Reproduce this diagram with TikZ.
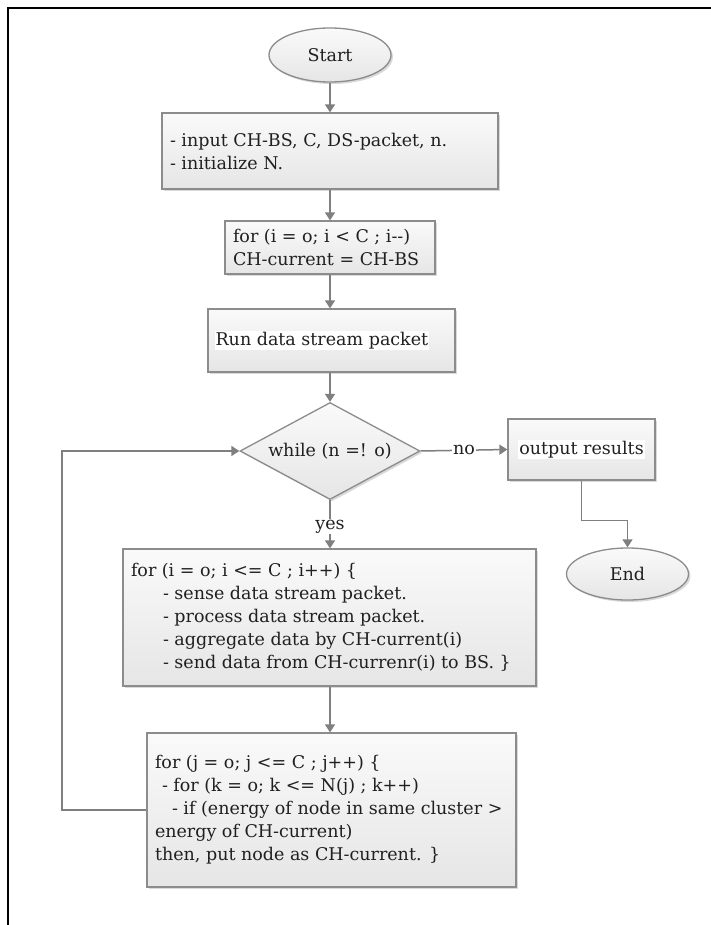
\documentclass[tikz,border=0pt]{standalone}
\usepackage{fontspec}
\setmainfont{DejaVu Serif}
\usetikzlibrary{shapes.geometric,arrows.meta,shadows}

\definecolor{edgegray}{HTML}{8C8C8C}
\definecolor{wiregray}{HTML}{7F7F7F}
\definecolor{ink}{HTML}{202020}

\newcommand\flowfont{\fontsize{17.5}{23}\selectfont}

\tikzset{
  flow/.style={draw=edgegray, line width=1.3pt, shading=axis,
    top color=white!98!black, bottom color=white!90!black,
    drop shadow={shadow xshift=2pt, shadow yshift=-2pt, fill=black, opacity=0.15},
    text=ink, font=\flowfont},
  procbox/.style={flow, rectangle, align=flush left, inner xsep=8pt, inner ysep=0pt},
  termnode/.style={flow, ellipse, inner sep=0pt, minimum width=122pt, minimum height=54pt},
  decnode/.style={flow, diamond, aspect=1.86, inner sep=0pt, minimum width=180pt, minimum height=97pt},
  wire/.style={draw=wiregray, line width=1.5pt, -{Triangle[width=10pt,length=8pt]}},
  tag/.style={fill=white, inner sep=1pt, text=ink, font=\flowfont},
}

\begin{document}
\begin{tikzpicture}[x=1pt, y=-1pt]
  \useasboundingbox (0,0) rectangle (710,925);
  \fill[white] (0,0) rectangle (710,925);

  % page frame (only top and left edges fall on the page)
  \draw[line width=2.5pt, black] (8,960) -- (8,8) -- (760,8);

  % terminals
  \node[termnode] (start) at (330,55) {Start};
  \node[termnode, minimum height=52pt] (stop) at (627.5,574) {End};

  % process boxes
  \node[procbox, minimum width=336pt, text width=320pt, minimum height=76pt] (inputs) at (330,151)
    {- input CH-BS, C, DS-packet, n.\\- initialize N.};
  \node[procbox, minimum width=210pt, text width=194pt, minimum height=53pt] (init) at (330,247.5)
    {for (i = o; i < C ; i-{}-)\\CH-current = CH-BS};
  \node[procbox, minimum width=247pt, minimum height=63pt] (run) at (331.5,340.5) {};
  \node[tag, anchor=west] (runtext) at ([xshift=7pt]run.west) {Run data stream packet};

  % decision
  \node[decnode] (loop) at (330,451) {while (n =! o)};

  % result output
  \node[procbox, minimum width=147pt, minimum height=61pt] (out) at (581.5,449.5) {};
  \node[tag] (outtext) at (out.center) {output results};

  % per-cluster processing
  \node[procbox, minimum width=413pt, text width=397pt, minimum height=137pt] (sense) at (329.5,617.5)
    {for (i = o; i <= C ; i++) \{\\
     \hspace*{32pt}- sense data stream packet.\\
     \hspace*{32pt}- process data stream packet.\\
     \hspace*{32pt}- aggregate data by CH-current(i)\\
     \hspace*{32pt}- send data from CH-currenr(i) to BS. \}};

  % cluster-head re-election
  \node[procbox, minimum width=369pt, text width=353pt, minimum height=154pt] (elect) at (331.5,810)
    {for (j = o; j <= C ; j++) \{\\
     \hspace*{7pt}- for (k = o; k <= N(j) ; k++)\\
     \hspace*{17pt}- if (energy of node in same cluster >\\
     energy of CH-current)\\
     then, put node as CH-current. \}};

  % connectors (kept vertical along the main column)
  \draw[wire] (start.south) -- (start.south |- inputs.north);
  \draw[wire] (inputs.south) -- (inputs.south |- init.north);
  \draw[wire] (init.south) -- (init.south |- run.north);
  \draw[wire] (init.south |- run.south) -- (loop.north);
  \draw[wire] (loop.east) -- node[tag, pos=0.5] (nolabel) {no} (out.west);
  \draw[wire] (loop.south) -- node[tag, pos=0.55] (yeslabel) {yes} (loop.south |- sense.north);
  \draw[wire] (out.south) -- ++(0,40) -| (stop.north);
  \draw[wire] (loop.south |- sense.south) -- (loop.south |- elect.north);

  % back edge to the loop test
  \coordinate (backedge) at (62,451);
  \draw[wire] (elect.west) -| (backedge) -- (loop.west);
\end{tikzpicture}
\end{document}
